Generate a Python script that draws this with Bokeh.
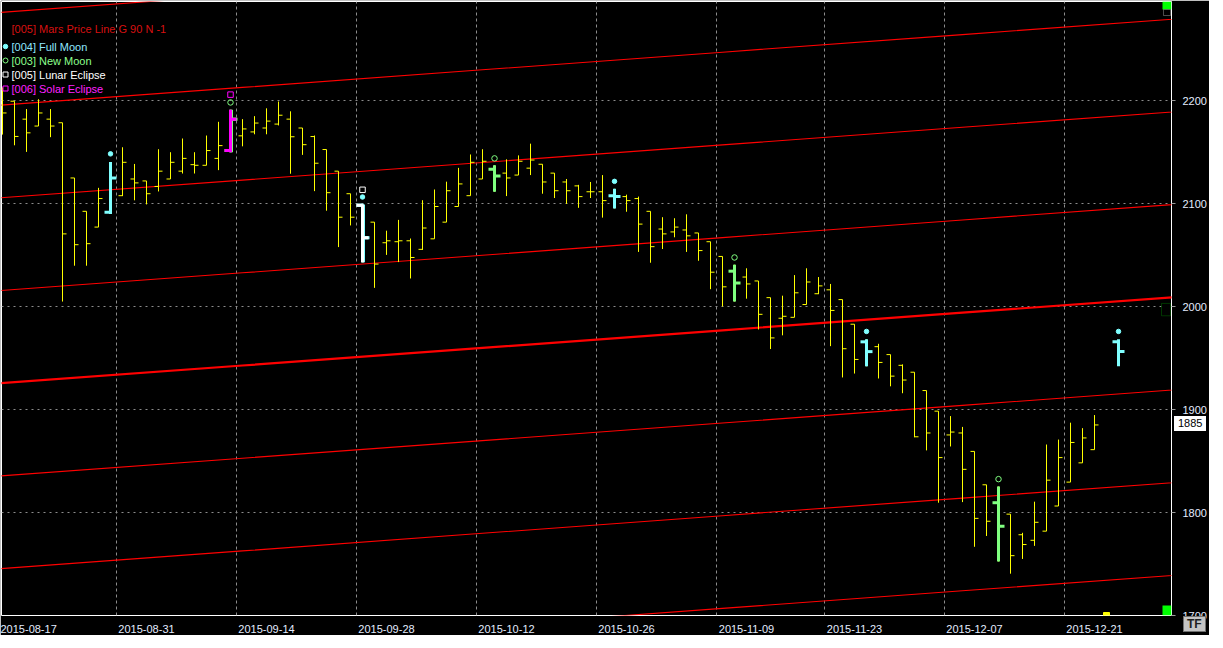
from bokeh.plotting import figure
from bokeh.models import FixedTicker, Range1d, Label, BoxAnnotation, ColumnDataSource, Div
from bokeh.embed import file_html
from bokeh.resources import INLINE

# ---------------- data ----------------
tick_labels = ["2015-08-17", "2015-08-31", "2015-09-14", "2015-09-28", "2015-10-12",
               "2015-10-26", "2015-11-09", "2015-11-23", "2015-12-07", "2015-12-21"]
tick_bar = [0, 10, 20, 30, 40, 50, 60, 69, 79, 89]
y_ticks = [1700, 1800, 1900, 2000, 2100, 2200]

bar_open = [2211.1, 2199.3, 2181.9, 2175.2, 2181.9, 2178.4, 2124.8, 2092.4, 2077.1, 2091.4,
            2107.6, 2123.8, 2121.9, 2116.5, 2123.8, 2131.4, 2137.7, 2137.1, 2143.8, 2151.4,
            2165.7, 2169.5, 2173.3, 2177.1, 2181.9, 2173.3, 2165.0, 2152.4, 2131.4, 2109.5,
            2098.4, 2081.9, 2061.9, 2062.9, 2063.8, 2055.5, 2065.7, 2081.9, 2097.1, 2107.6,
            2123.8, 2133.3, 2129.5, 2127.6, 2134.3, 2138.1, 2129.5, 2120.9, 2117.1, 2111.4,
            2111.4, 2107.6, 2106.7, 2104.8, 2092.4, 2075.2, 2072.4, 2074.3, 2071.4, 2062.9,
            2048.6, 2034.3, 2028.6, 2024.8, 2008.6, 1988.6, 1989.5, 2001.9, 2012.4, 2016.2,
            2006.7, 1982.8, 1965.7, 1961.0, 1953.3, 1942.9, 1936.2, 1918.4, 1898.4, 1875.3,
            1877.2, 1859.3, 1826.9, 1809.5, 1798.4, 1778.4, 1773.0, 1781.9, 1806.3, 1829.5,
            1848.2, 1861.0]
bar_high = [2212.7, 2199.3, 2191.7, 2201.2, 2191.7, 2178.4, 2124.8, 2092.4, 2115.2, 2140.3,
            2154.6, 2138.4, 2121.9, 2152.7, 2149.8, 2163.1, 2149.8, 2166.0, 2179.3, 2191.0,
            2181.9, 2184.8, 2192.4, 2199.0, 2189.5, 2173.3, 2166.0, 2152.4, 2131.4, 2109.5,
            2099.0, 2081.9, 2073.6, 2084.1, 2066.0, 2103.2, 2113.6, 2121.2, 2134.6, 2147.6,
            2152.7, 2137.1, 2142.9, 2146.7, 2158.1, 2138.1, 2129.5, 2123.8, 2118.1, 2120.9,
            2127.6, 2114.3, 2108.6, 2106.7, 2092.4, 2086.7, 2085.7, 2089.5, 2071.4, 2062.9,
            2048.6, 2040.6, 2037.1, 2024.8, 2008.6, 2010.5, 2030.5, 2037.1, 2028.6, 2021.9,
            2006.7, 1982.8, 1968.2, 1963.8, 1953.3, 1943.8, 1936.2, 1918.4, 1898.4, 1893.6,
            1883.1, 1859.3, 1826.9, 1825.3, 1798.4, 1780.3, 1810.5, 1866.0, 1870.8, 1887.2,
            1881.9, 1894.6]
bar_low = [2166.9, 2156.5, 2150.1, 2175.2, 2164.4, 2004.8, 2039.6, 2039.6, 2077.1, 2089.8,
           2107.2, 2103.1, 2099.1, 2111.7, 2123.8, 2129.1, 2129.1, 2137.1, 2132.4, 2149.8,
           2155.5, 2167.2, 2167.2, 2175.8, 2128.9, 2147.2, 2112.0, 2093.0, 2057.7, 2078.7,
           2042.9, 2018.1, 2050.1, 2043.1, 2027.2, 2054.9, 2065.7, 2081.9, 2097.1, 2107.6,
           2123.8, 2111.4, 2107.2, 2127.6, 2127.6, 2109.5, 2105.3, 2099.6, 2095.8, 2105.3,
           2086.3, 2095.2, 2092.0, 2053.0, 2042.5, 2055.8, 2067.2, 2053.0, 2044.4, 2016.8,
           2000.0, 2004.8, 2007.6, 1977.7, 1958.7, 1972.0, 1989.5, 2001.9, 2012.0, 1961.5,
           1931.1, 1934.9, 1941.9, 1930.1, 1922.5, 1915.8, 1873.0, 1860.3, 1809.5, 1864.1,
           1810.1, 1766.7, 1777.2, 1752.4, 1740.6, 1754.9, 1767.6, 1781.9, 1806.3, 1829.5,
           1848.2, 1861.0]
bar_close = [2187.9, 2165.1, 2168.6, 2187.9, 2175.2, 2070.5, 2060.0, 2061.0, 2104.8, 2124.8,
             2140.0, 2120.0, 2109.5, 2131.4, 2140.0, 2143.8, 2137.1, 2151.4, 2156.2, 2181.9,
             2172.4, 2178.1, 2180.0, 2185.7, 2164.8, 2157.1, 2139.1, 2110.5, 2086.7, 2086.7,
             2066.7, 2041.2, 2063.8, 2063.8, 2047.6, 2076.2, 2097.1, 2112.4, 2119.0, 2140.0,
             2141.0, 2126.7, 2124.8, 2141.0, 2142.2, 2120.9, 2112.4, 2112.4, 2106.7, 2111.4,
             2102.8, 2106.7, 2102.8, 2080.0, 2058.1, 2070.5, 2077.1, 2068.6, 2054.3, 2033.3,
             2019.1, 2022.8, 2021.9, 1992.4, 1969.5, 1990.5, 2013.3, 2023.8, 2020.0, 1996.2,
             1959.0, 1948.6, 1956.2, 1945.7, 1932.4, 1928.6, 1873.5, 1877.2, 1853.3, 1878.1,
             1841.9, 1794.3, 1791.5, 1786.7, 1758.1, 1768.9, 1790.5, 1831.4, 1853.3, 1868.0,
             1872.4, 1885.0]

full_moon_bar = [9, 30, 51, 72]
full_moon_mark = [2148.2, 2106.3, 2121.5, 1975.8]
new_moon_bar = [19, 41, 61, 83]
new_moon_mark = [2198.1, 2143.8, 2047.6, 1832.4]
lunar_eclipse_bar = [30]
lunar_eclipse_mark = [2113.3]
solar_eclipse_bar = [19]
solar_eclipse_mark = [2205.7]

# projected full moon beyond the last bar
future_fm_bar = [93]
future_fm_open = [1965.7]
future_fm_high = [1968.2]
future_fm_low = [1941.9]
future_fm_close = [1956.2]
future_fm_mark = [1975.8]

next_bar = [92]

# Mars price line (main harmonic) and its 90-point harmonics
mars_bar = [-1, 20, 40, 60, 80, 99]
mars_price = [1924.8, 1942.7, 1959.8, 1976.9, 1994.0, 2010.2]
harmonic_step = 90
harmonic_n = [-3, -2, -1, 0, 1, 2, 3, 4]

# ---------------- styling ----------------
FRAME_W, FRAME_H = 1170, 614
PXB = 12.0                      # pixels per bar
PXY = 1.03                      # pixels per point
X0 = -1.0 / PXB
X1 = X0 + FRAME_W / PXB
Y0 = 1700
Y1 = Y0 + FRAME_H / PXY
FONT = "Liberation Sans"

YELLOW = "#FFFF00"
CYAN = "#80FFFF"
GREEN = "#80FF80"
WHITE = "#FFFFFF"
MAGENTA = "#FF00FF"
RED = "#FF0000"
GRID = "#8C8C8C"
LABEL = "#E4ECFF"

p = figure(frame_width=FRAME_W, frame_height=FRAME_H,
           x_range=Range1d(X0, X1), y_range=Range1d(Y0, Y1),
           y_axis_location="right", output_backend="svg", toolbar_location=None,
           min_border_left=1, min_border_top=1, min_border_right=36, min_border_bottom=17)
p.background_fill_color = "black"
p.border_fill_color = "black"
p.outline_line_color = "white"
p.outline_line_width = 1

# axes
xa = p.xaxis[0]
LABEL_SHIFT = 2.5  # bars: labels start at the grid line
xa.ticker = FixedTicker(ticks=[b + LABEL_SHIFT - 0.5 for b in tick_bar])
xa.major_label_overrides = {b + LABEL_SHIFT - 0.5: t for b, t in zip(tick_bar, tick_labels)}
xa.major_tick_line_color = None
xa.minor_tick_line_color = None
xa.axis_line_color = None
xa.major_label_standoff = 3
xa.major_label_text_color = LABEL
xa.major_label_text_font = FONT
xa.major_label_text_font_size = "11px"

ya = p.yaxis[0]
ya.ticker = FixedTicker(ticks=y_ticks)
ya.major_tick_line_color = "#9A9A9A"
ya.major_tick_in = 0
ya.major_tick_out = 4
ya.minor_tick_line_color = None
ya.axis_line_color = None
ya.major_label_standoff = 7
ya.major_label_text_color = LABEL
ya.major_label_text_font = FONT
ya.major_label_text_font_size = "11px"

p.xgrid[0].ticker = FixedTicker(ticks=[b - 0.5 for b in tick_bar])
p.xgrid[0].grid_line_color = GRID
p.xgrid[0].grid_line_dash = "3 3"
p.ygrid[0].ticker = FixedTicker(ticks=y_ticks)
p.ygrid[0].grid_line_color = GRID
p.ygrid[0].grid_line_dash = "2 4"

# Mars price lines
for n in harmonic_n:
    p.line(mars_bar, [v + n * harmonic_step for v in mars_price],
           line_color=RED, line_width=2.2 if n == 0 else 1.1)


def ohlc(xs, o, h, l, c, color, width, tick):
    src = ColumnDataSource(dict(x=xs, xl=[x - tick for x in xs], xr=[x + tick for x in xs],
                                o=o, h=h, l=l, c=c))
    p.segment("x", "l", "x", "h", source=src, line_color=color, line_width=width)
    p.segment("xl", "o", "x", "o", source=src, line_color=color, line_width=width)
    p.segment("x", "c", "xr", "c", source=src, line_color=color, line_width=width)


bars = list(range(len(bar_open)))
ohlc(bars, bar_open, bar_high, bar_low, bar_close, YELLOW, 1, 4 / PXB)


def pick(idx, arr):
    return [arr[i] for i in idx]


SP_TICK = 6 / PXB
SHIFT = 1 / PXB
ohlc(full_moon_bar, pick(full_moon_bar, bar_open), pick(full_moon_bar, bar_high),
     pick(full_moon_bar, bar_low), pick(full_moon_bar, bar_close), CYAN, 3, SP_TICK)
ohlc(future_fm_bar, future_fm_open, future_fm_high, future_fm_low, future_fm_close, CYAN, 3, SP_TICK)
ohlc(new_moon_bar, pick(new_moon_bar, bar_open), pick(new_moon_bar, bar_high),
     pick(new_moon_bar, bar_low), pick(new_moon_bar, bar_close), GREEN, 3, SP_TICK)
ohlc([b + SHIFT for b in lunar_eclipse_bar], pick(lunar_eclipse_bar, bar_open), pick(lunar_eclipse_bar, bar_high),
     pick(lunar_eclipse_bar, bar_low), pick(lunar_eclipse_bar, bar_close), CYAN, 3, SP_TICK)
ohlc(lunar_eclipse_bar, pick(lunar_eclipse_bar, bar_open), pick(lunar_eclipse_bar, bar_high),
     pick(lunar_eclipse_bar, bar_low), pick(lunar_eclipse_bar, bar_close), WHITE, 3, SP_TICK)
ohlc([b + SHIFT for b in solar_eclipse_bar], pick(solar_eclipse_bar, bar_open), pick(solar_eclipse_bar, bar_high),
     pick(solar_eclipse_bar, bar_low), pick(solar_eclipse_bar, bar_close), GREEN, 3, SP_TICK)
ohlc(solar_eclipse_bar, pick(solar_eclipse_bar, bar_open), pick(solar_eclipse_bar, bar_high),
     pick(solar_eclipse_bar, bar_low), pick(solar_eclipse_bar, bar_close), MAGENTA, 3, SP_TICK)

# event markers
p.scatter(full_moon_bar + future_fm_bar, full_moon_mark + future_fm_mark, marker="circle", size=4.5,
          fill_color=CYAN, line_color=CYAN)
p.scatter(new_moon_bar, new_moon_mark, marker="circle", size=5.5, fill_color=None,
          line_color=GREEN, line_width=1)
p.scatter(lunar_eclipse_bar, lunar_eclipse_mark, marker="square", size=5.5, fill_color=None,
          line_color=WHITE, line_width=1)
p.scatter(solar_eclipse_bar, solar_eclipse_mark, marker="square", size=5.5, fill_color=None,
          line_color=MAGENTA, line_width=1)

# next-bar marker on the time axis
p.scatter(next_bar, [1700] * len(next_bar), marker="square", size=6, fill_color=YELLOW, line_color=YELLOW)

# legend (top-left)
legend = [
    ("[005] Mars Price Line G 90 N -1", "#D81010", None, 27),
    ("[004] Full Moon", "#8FE6FF", ("circle", CYAN, True), 45),
    ("[003] New Moon", "#8CFF8C", ("circle", GREEN, False), 59),
    ("[005] Lunar Eclipse", WHITE, ("square", WHITE, False), 73),
    ("[006] Solar Eclipse", "#FF20FF", ("square", MAGENTA, False), 87),
]
for text, col, mk, off in legend:
    p.add_layout(Label(x=10, y=FRAME_H - off, x_units="screen", y_units="screen", text=text,
                       text_color=col, text_font=FONT, text_font_size="11px",
                       text_baseline="middle"))
    if mk is not None:
        shape, mcol, filled = mk
        p.scatter([X0 + 4 / PXB], [Y1 - off / PXY], marker=shape, size=4.5 if filled else 5,
                  fill_color=mcol if filled else None, line_color=mcol, line_width=1)


# chart widgets (scroll handles on the right edge)
def screen_box(l, r, b, t, fill, line=None):
    p.add_layout(BoxAnnotation(left=l, right=r, top=t, bottom=b,
                               left_units="screen", right_units="screen", top_units="screen",
                               bottom_units="screen", fill_color=fill, fill_alpha=1,
                               line_color=line, line_width=1))


screen_box(FRAME_W - 9, FRAME_W, FRAME_H - 8, FRAME_H, "#00FF00")
screen_box(FRAME_W - 8, FRAME_W - 1, FRAME_H - 14, FRAME_H - 8, "black", "white")
screen_box(FRAME_W - 9, FRAME_W, 0, 10, "#00FF00")
p.add_layout(BoxAnnotation(left=FRAME_W - 10, right=FRAME_W - 1, bottom=1991, top=2003,
                           left_units="screen", right_units="screen",
                           fill_color="black", fill_alpha=1, line_color="#00B000", line_width=1))
p.scatter([X1 - 5.5 / PXB], [1997], marker="circle", size=6, fill_color=None, line_color="white")

# last price box and TF button (outside the plot frame)
last_txt = str(round(bar_close[-1]))
top_px = 1 + (Y1 - bar_close[-1]) * PXY
price_box = Div(text=last_txt, styles={
    "position": "absolute", "left": f"{1 + FRAME_W + 3}px", "top": f"{top_px - 8:.0f}px",
    "background-color": "white", "color": "black", "font-family": FONT, "font-size": "11px",
    "line-height": "15px", "padding": "0px 4px", "z-index": "10"})
tf_box = Div(text="TF", styles={
    "position": "absolute", "left": f"{1 + FRAME_W + 12}px", "top": f"{1 + FRAME_H + 1}px",
    "background-color": "#C4C4C4", "color": "#202020", "font-family": FONT, "font-size": "12px",
    "font-weight": "bold", "line-height": "14px", "padding": "0px 3px",
    "border": "1px solid #707070", "z-index": "10"})
if hasattr(p, "elements"):
    p.elements = [price_box, tf_box]

open("out.html", "w").write(file_html(p, INLINE))
